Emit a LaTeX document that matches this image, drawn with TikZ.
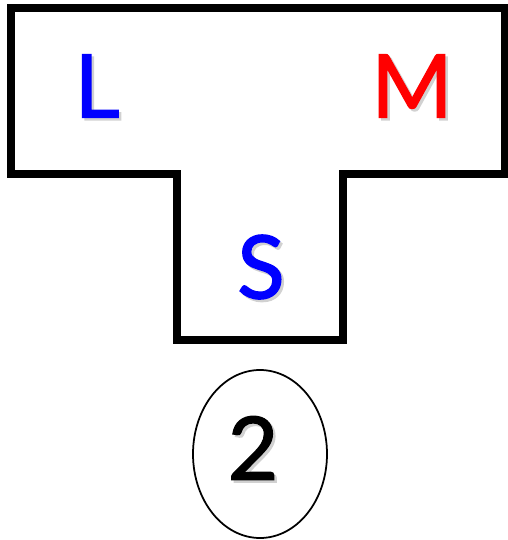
\documentclass[tikz,border=0pt]{standalone}
\usepackage{fontspec}
\setmainfont{Lato}
\newfontfamily\labfont{Lato}[FakeBold=1.5]
\usetikzlibrary{shapes.geometric}
\begin{document}
\begin{tikzpicture}[x=0.02cm, y=-0.02cm,
    lab/.style={font=\fontsize{50}{60}\selectfont\labfont, inner sep=0pt},
    shade/.style={lab, text=black!18}]
    \useasboundingbox (0,0) rectangle (507,540);
    \draw[line width=4.5pt] (11,8) -- (505,8) -- (505,174) -- (343,174) -- (343,340) -- (177,340) -- (177,174) -- (11,174) -- cycle;
    \node[shade] (Lsh) at (99.5,88.5) {L};
    \node[shade] (Msh) at (414.5,88.5) {M};
    \node[shade] (Ssh) at (263.5,269.5) {S};
    \node[shade] (twosh) at (255.5,450.5) {2};
    \node[lab, text=blue] (L) at (97,86) {L};
    \node[lab, text=red] (M) at (412,86) {M};
    \node[lab, text=blue] (S) at (261,267) {S};
    \node[draw, ellipse, line width=1pt, inner sep=0pt, minimum width=134*0.02cm, minimum height=168*0.02cm] (ring) at (260,454) {};
    \node[lab] (two) at (253,448) {2};
\end{tikzpicture}
\end{document}
